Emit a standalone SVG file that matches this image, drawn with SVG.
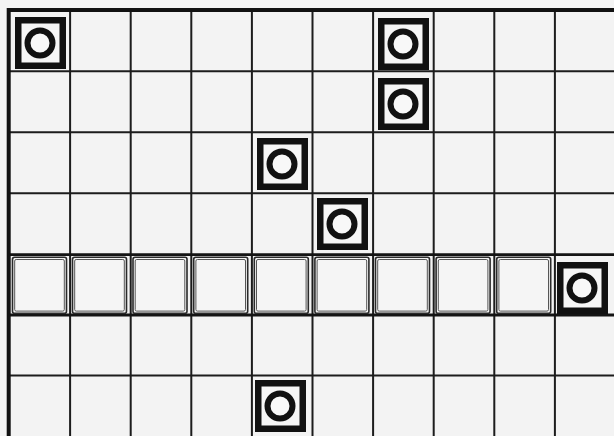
<svg xmlns="http://www.w3.org/2000/svg" xmlns:xlink="http://www.w3.org/1999/xlink" width="614" height="436" viewBox="0 0 614 436">
<style>
.bg{fill:#f3f3f3}
.grid{stroke:#1c1c1c;stroke-width:2;fill:none}
.gridb{stroke:#141414;stroke-width:2.8;fill:none}
.border{stroke:#111;stroke-width:4;fill:none}
.sq{fill:#f6f6f6;stroke:#111;stroke-width:6.5}
.ring{fill:#f8f8f8;stroke:#111;stroke-width:6}
.slo{fill:#f5f5f5;stroke:#2a2a2a;stroke-width:1.6}
.sli{fill:none;stroke:#555;stroke-width:1}
</style>
<defs>
<g id="sym">
<rect class="sq" x="3.25" y="3.25" width="44.5" height="45.5"/>
<circle class="ring" cx="25" cy="26" r="12.5"/>
</g>
<g id="slot">
<rect class="slo" x="0" y="0" width="54" height="56" rx="2"/>
<rect class="sli" x="2.2" y="2.2" width="49.6" height="51.6" rx="1.5"/>
</g>
</defs>
<rect class="bg" x="0" y="0" width="614" height="436"/>
<g id="connectors">
<path class="grid" d="M70.1 10V436M130.7 10V436M191.3 10V436M251.9 10V436M312.5 10V436M373.1 10V436M433.7 10V436M494.3 10V436M554.9 10V436"/>
<path class="grid" d="M9 71.2H614M9 132.2H614M9 193.2H614M9 375.4H614"/>
<path class="gridb" d="M9 254.6H614M9 315H614"/>
<path class="border" d="M8.7 436V10H614"/>
</g>
<g id="slot-0"><use xlink:href="#slot" x="12.5" y="257.3"/></g>
<g id="slot-1"><use xlink:href="#slot" x="72.5" y="257.3"/></g>
<g id="slot-2"><use xlink:href="#slot" x="133" y="257.3"/></g>
<g id="slot-3"><use xlink:href="#slot" x="193.7" y="257.3"/></g>
<g id="slot-4"><use xlink:href="#slot" x="254.3" y="257.3"/></g>
<g id="slot-5"><use xlink:href="#slot" x="314.9" y="257.3"/></g>
<g id="slot-6"><use xlink:href="#slot" x="375.5" y="257.3"/></g>
<g id="slot-7"><use xlink:href="#slot" x="436.1" y="257.3"/></g>
<g id="slot-8"><use xlink:href="#slot" x="496.7" y="257.3"/></g>
<g id="node-a"><use xlink:href="#sym" x="15" y="17"/></g>
<g id="node-b"><use xlink:href="#sym" x="378" y="18"/></g>
<g id="node-c"><use xlink:href="#sym" x="378" y="78"/></g>
<g id="node-d"><use xlink:href="#sym" x="257" y="138"/></g>
<g id="node-e"><use xlink:href="#sym" x="317" y="198"/></g>
<g id="node-f"><use xlink:href="#sym" x="557" y="262"/></g>
<g id="node-g"><use xlink:href="#sym" x="255" y="380"/></g>
</svg>
